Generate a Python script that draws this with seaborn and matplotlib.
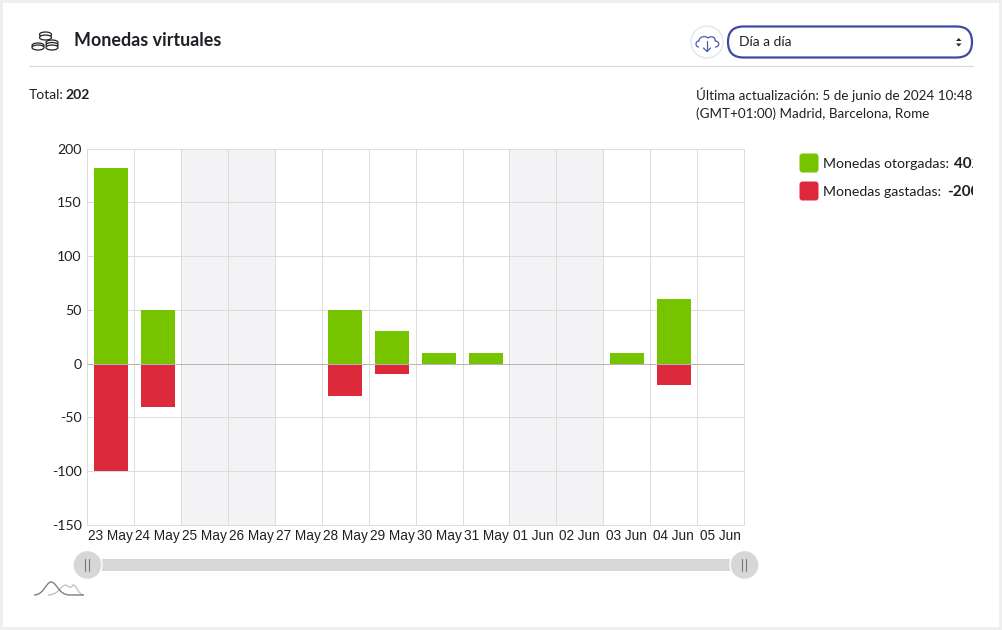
import numpy as np
import pandas as pd
import matplotlib
matplotlib.use('Agg')
import matplotlib.pyplot as plt
import seaborn as sns
from matplotlib.patches import Rectangle, FancyBboxPatch, Circle, Ellipse, Polygon, PathPatch
from matplotlib.path import Path
from matplotlib.transforms import IdentityTransform

days = ['23 May', '24 May', '25 May', '26 May', '27 May', '28 May', '29 May',
        '30 May', '31 May', '01 Jun', '02 Jun', '03 Jun', '04 Jun', '05 Jun']
otorgadas = [182, 50, 0, 0, 0, 50, 30, 10, 10, 0, 0, 10, 60, 0]
gastadas = [-100, -40, 0, 0, 0, -30, -10, 0, 0, 0, 0, 0, -20, 0]
weekend = ['25 May', '26 May', '01 Jun', '02 Jun']
y_ticks = [-150, -100, -50, 0, 50, 100, 150, 200]

GREEN = '#76c400'
RED = '#dc2a3c'
UI_FONT = 'Lato'
TEXT = '#1d2125'

sns.set_theme(style='white')
plt.rcParams['font.family'] = [UI_FONT, 'DejaVu Sans']

df = pd.DataFrame({'day': days, 'otorgadas': otorgadas, 'gastadas': gastadas})

W, H = 1002, 630
fig = plt.figure(figsize=(W / 100, H / 100), dpi=100, facecolor='white')

# page furniture, drawn in pixel coordinates
ui = fig.add_axes([0, 0, 1, 1], zorder=0)
ui.set_xlim(0, W)
ui.set_ylim(H, 0)
ui.axis('off')

ui.add_patch(Rectangle((0, 0), W, H, fc='#efefef', ec='none'))
ui.add_patch(Rectangle((3, 3), W - 6, H - 6, fc='white', ec='none'))
ui.plot([29, 973], [65.5, 65.5], color='#d9d9d9', lw=0.8)

ui.text(74, 40, 'Monedas virtuales', fontsize=12.85, fontweight='bold', color=TEXT, va='center')
ui.text(29, 95, 'Total:', fontsize=10, color=TEXT, va='center')
ui.text(65, 95, '202', fontsize=10, fontweight='bold', color=TEXT, va='center')

# text runs past this edge in the original and gets cut off
clip = Rectangle((0, 0), 973, H, transform=IdentityTransform())

info = ui.text(696.5, 95, 'Última actualización: 5 de junio de 2024 10:48', fontsize=9.7,
               color=TEXT, va='center', clip_on=True)
info.set_clip_path(clip)
ui.text(696.5, 114, '(GMT+01:00) Madrid, Barcelona, Rome', fontsize=9.7, color=TEXT, va='center')

# coins icon
for cx, cy in [(45.5, 34.5), (45.5, 37.5), (52, 42.5), (52, 45), (52, 47.5), (38, 45.5), (38, 47.5)]:
    ui.add_patch(Ellipse((cx, cy), 12, 5, fc='white', ec='#222222', lw=0.9))

# download button
ui.add_patch(Circle((707, 42), 16, fc='white', ec='#e4e4f4', lw=1))
cloud = Path([(699, 47), (695, 47), (695, 41), (699, 41), (699, 37), (705, 35), (708, 38),
              (712, 35), (716, 38), (715, 41), (720, 41), (720, 47), (715, 47)],
             [Path.MOVETO, Path.CURVE4, Path.CURVE4, Path.CURVE4, Path.CURVE4, Path.CURVE4, Path.CURVE4,
              Path.CURVE4, Path.CURVE4, Path.CURVE4, Path.CURVE4, Path.CURVE4, Path.CURVE4])
ui.add_patch(PathPatch(cloud, fc='none', ec='#4a5ab0', lw=0.9))
ui.plot([707, 707], [41, 51], color='#4a5ab0', lw=0.9)
ui.plot([703.5, 707, 710.5], [48, 51.5, 48], color='#4a5ab0', lw=0.9)

# select box
ui.add_patch(FancyBboxPatch((728, 26.5), 244, 31, boxstyle='round,pad=0,rounding_size=15.5',
                            fc='white', ec='#3f4a9f', lw=1.6))
ui.text(739, 42.5, 'Día a día', fontsize=10, color=TEXT, va='center')
ui.add_patch(Polygon([(956, 41), (961.5, 41), (958.7, 38)], fc='#222222', ec='none'))
ui.add_patch(Polygon([(956, 43.5), (961.5, 43.5), (958.7, 46.5)], fc='#222222', ec='none'))

# legend
for y, color, label, total, xb in [(163, GREEN, 'Monedas otorgadas:', '402', 954),
                                   (191, RED, 'Monedas gastadas:', '-200', 947)]:
    ui.add_patch(FancyBboxPatch((799.5, y - 9.5), 19, 19, boxstyle='round,pad=0,rounding_size=3',
                                fc=color, ec='none'))
    ui.text(823, y + 0.5, label, fontsize=10.2, color=TEXT, va='center')
    t = ui.text(xb, y + 0.5, total, fontsize=11, fontweight='bold', color=TEXT, va='center', clip_on=True)
    t.set_clip_path(clip)

# range slider under the chart
ui.add_patch(Rectangle((102, 559), 628, 12, fc='#d7d7d7', ec='none'))
for cx in [87.5, 744.5]:
    ui.add_patch(Circle((cx, 565), 14.5, fc='#d7d7d7', ec='white', lw=1))
    ui.plot([cx - 2, cx - 2], [559, 571], color='#777777', lw=0.8)
    ui.plot([cx + 2, cx + 2], [559, 571], color='#777777', lw=0.8)

# little density icon below the slider
ui.add_patch(PathPatch(Path([(48, 595), (58, 595), (60, 587), (65, 585), (68, 585), (70, 590), (73, 585),
                             (77, 585), (78, 595), (84, 595)],
                            [Path.MOVETO, Path.CURVE4, Path.CURVE4, Path.CURVE4, Path.CURVE4, Path.CURVE4,
                             Path.CURVE4, Path.CURVE4, Path.CURVE4, Path.CURVE4]),
                       fc='none', ec='#c4c4c4', lw=1))
ui.add_patch(PathPatch(Path([(34, 595), (44, 595), (46, 582), (51, 582), (57, 582), (58, 595), (70, 595),
                             (84, 595)],
                            [Path.MOVETO, Path.CURVE4, Path.CURVE4, Path.CURVE4, Path.CURVE4, Path.CURVE4,
                             Path.LINETO, Path.LINETO]),
                       fc='none', ec='#808080', lw=1))

# the chart itself
ax = fig.add_axes([87.3 / W, 1 - 524.9 / H, (744.0 - 87.3) / W, (524.9 - 148.7) / H], zorder=1)
ax.patch.set_alpha(0)

sns.barplot(data=df, x='day', y='otorgadas', color=GREEN, width=0.72, saturation=1, linewidth=0, ax=ax, zorder=3)
sns.barplot(data=df, x='day', y='gastadas', color=RED, width=0.72, saturation=1, linewidth=0, ax=ax, zorder=3)

for d in weekend:
    i = days.index(d)
    ax.axvspan(i - 0.5, i + 0.5, fc='#f3f3f5', ec='none', zorder=0)

ax.set_xlim(-0.5, len(days) - 0.5)
ax.set_ylim(-150, 200)
ax.set_xlabel('')
ax.set_ylabel('')
ax.set_yticks(y_ticks)
ax.set_yticklabels([str(v) for v in y_ticks], fontsize=10.2, color=TEXT, family=UI_FONT)
ax.set_xticks(np.arange(-0.5, len(days)), labels=[])
ax.set_xticks(np.arange(len(days)), labels=days, minor=True, fontsize=9.8, color=TEXT, family='Liberation Sans')
ax.tick_params(axis='both', which='both', length=0)
ax.tick_params(axis='x', which='minor', pad=3.2)
ax.tick_params(axis='y', pad=4)
ax.grid(True, which='major', color='#dcdcdc', lw=0.7, zorder=1)
ax.set_axisbelow(True)
ax.axhline(0, color='#b5b5b5', lw=0.7, zorder=4)
for s in ax.spines.values():
    s.set_color('#dcdcdc')
    s.set_linewidth(0.7)

fig.savefig('out.png', dpi=100)
